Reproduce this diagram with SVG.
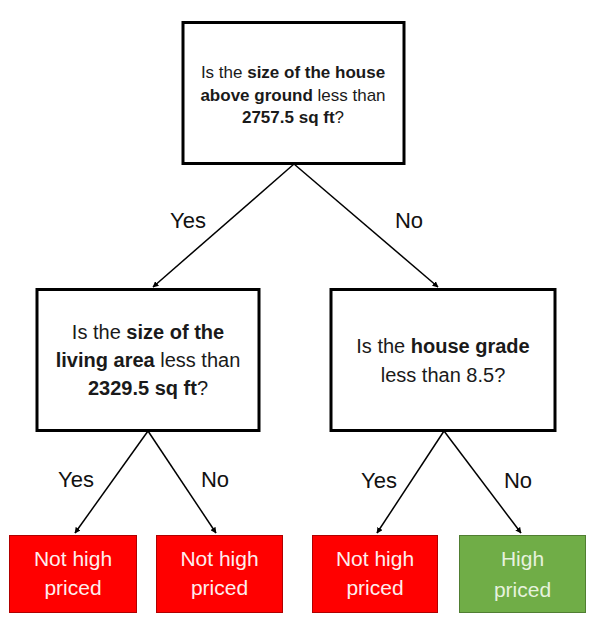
<svg xmlns="http://www.w3.org/2000/svg" width="596" height="622" viewBox="0 0 596 622">
<defs>
<marker id="arr" viewBox="0 0 10 10" refX="9" refY="5" markerWidth="6" markerHeight="6" markerUnits="userSpaceOnUse" orient="auto">
<path d="M0,0 L10,5 L0,10 z" fill="#000"/>
</marker>
</defs>
<style>
text{font-family:"Liberation Sans",Arial,sans-serif;text-anchor:middle;fill:#1a1a1a}
.q{fill:#fff;stroke:#000;stroke-width:3}
.r{fill:#FF0000;stroke:#B00000;stroke-width:1}
.g{fill:#70AD47;stroke:#507E32;stroke-width:1}
.lt{font-size:21px;fill:#FDEEEE}
.gt{font-size:21px;fill:#E6F2DE}
.lbl{font-size:22px;fill:#111}
.b{font-weight:bold}
.c{stroke:#000;stroke-width:1.5;fill:none;marker-end:url(#arr)}
</style>
<rect width="596" height="622" fill="#fff"/>
<g id="connectors">
<line class="c" x1="294" y1="164" x2="153" y2="287"/>
<line class="c" x1="294" y1="164" x2="438" y2="287"/>
<line class="c" x1="148" y1="431" x2="75" y2="533"/>
<line class="c" x1="148" y1="431" x2="216" y2="533"/>
<line class="c" x1="444" y1="431" x2="377" y2="533"/>
<line class="c" x1="444" y1="431" x2="521" y2="533"/>
<text class="lbl" x="188" y="228">Yes</text>
<text class="lbl" x="409" y="228">No</text>
<text class="lbl" x="76" y="487">Yes</text>
<text class="lbl" x="215" y="487">No</text>
<text class="lbl" x="379" y="488">Yes</text>
<text class="lbl" x="518" y="488">No</text>
</g>
<g id="root">
<rect class="q" x="183" y="22.5" width="221" height="141"/>
<text font-size="17" x="293" y="78">Is the <tspan class="b">size of the house</tspan></text>
<text font-size="17" x="293" y="100.5"><tspan class="b">above ground</tspan> less than</text>
<text font-size="17" x="293" y="123"><tspan class="b">2757.5 sq ft</tspan>?</text>
</g>
<g id="living">
<rect class="q" x="37" y="289.5" width="222" height="141"/>
<text font-size="20" x="148" y="339">Is the <tspan class="b">size of the</tspan></text>
<text font-size="20" x="148" y="367"><tspan class="b">living area</tspan> less than</text>
<text font-size="20" x="148" y="395"><tspan class="b">2329.5 sq ft</tspan>?</text>
</g>
<g id="grade">
<rect class="q" x="331" y="289.5" width="224" height="141"/>
<text font-size="20" x="443" y="353">Is the <tspan class="b">house grade</tspan></text>
<text font-size="20" x="443" y="382">less than 8.5?</text>
</g>
<g id="leaf1">
<rect class="r" x="9.5" y="535.5" width="127" height="77"/>
<text class="lt" x="73" y="566">Not high</text>
<text class="lt" x="73" y="595">priced</text>
</g>
<g id="leaf2">
<rect class="r" x="156.5" y="535.5" width="126" height="77"/>
<text class="lt" x="219.5" y="566">Not high</text>
<text class="lt" x="219.5" y="595">priced</text>
</g>
<g id="leaf3">
<rect class="r" x="312.5" y="535.5" width="125" height="77"/>
<text class="lt" x="375" y="566">Not high</text>
<text class="lt" x="375" y="595">priced</text>
</g>
<g id="leaf4">
<rect class="g" x="459.5" y="535.5" width="126" height="77"/>
<text class="gt" x="522.5" y="566">High</text>
<text class="gt" x="522.5" y="597">priced</text>
</g>
</svg>
